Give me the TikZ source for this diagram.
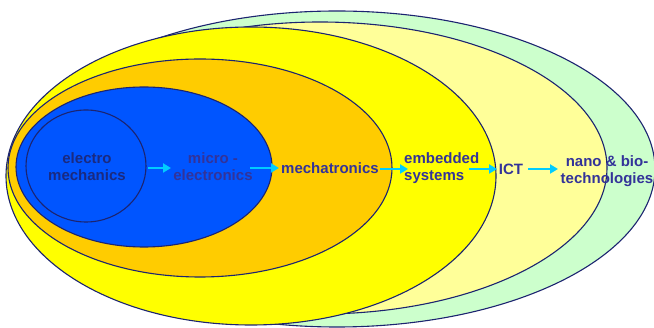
\documentclass[tikz,border=0pt]{standalone}
\usepackage{fontspec}
\setmainfont{Liberation Sans}
\usetikzlibrary{arrows.meta}
\definecolor{outline}{HTML}{1C2470}
\definecolor{mint}{HTML}{CCFFCC}
\definecolor{paleyellow}{HTML}{FFFF99}
\definecolor{brightyellow}{HTML}{FFFF00}
\definecolor{amber}{HTML}{FFCC00}
\definecolor{royal}{HTML}{0055FF}
\definecolor{navytext}{HTML}{333399}
\definecolor{darknavy}{HTML}{1A2A80}
\definecolor{flow}{HTML}{00CCFF}
\tikzset{
  ring/.style={draw=outline, line width=1.1pt},
  label/.style={font=\fontsize{15}{17}\selectfont\bfseries, text=navytext, inner sep=0pt, align=center},
  flowarrow/.style={draw=flow, line width=2.4pt, -{Triangle[length=8pt,width=9pt]}, shorten >=0pt}
}
\begin{document}
\begin{tikzpicture}[x=1pt, y=-1pt]
\useasboundingbox (0,0) rectangle (654,328);
% nested fields, outermost first
\filldraw[ring, fill=mint] (337,169) ellipse [x radius=318pt, y radius=158pt];
\filldraw[ring, fill=paleyellow] (320,168) ellipse [x radius=287pt, y radius=146pt];
\filldraw[ring, fill=brightyellow] (251,176) ellipse [x radius=245pt, y radius=149pt];
\filldraw[ring, fill=amber] (200,168) ellipse [x radius=192pt, y radius=109pt];
\filldraw[ring, fill=royal] (144,167) ellipse [x radius=128pt, y radius=80pt];
\draw[ring] (86,166) ellipse [x radius=60pt, y radius=56pt];
% labels
\node[label, text=darknavy] (em) at (87,167) {electro\\mechanics};
\node[label] (me) at (213,167) {micro -\\electronics};
\node[label] (mt) at (330,168) {mechatronics};
\node[label, anchor=west, align=left] (es) at (404,168) {embedded\\systems};
\node[label] (ict) at (511,169) {ICT};
\node[label] (nb) at (607,171) {nano \& bio-\\technologies};
% arrow ends
\coordinate (a1s) at (148,168); \coordinate (a1e) at (171,168);
\coordinate (a2s) at (250,168); \coordinate (a2e) at (279,168);
\coordinate (a3s) at (380,169); \coordinate (a3e) at (408,169);
\coordinate (a4s) at (469,169); \coordinate (a4e) at (497,169);
\coordinate (a5s) at (528,169); \coordinate (a5e) at (558,169);
\draw[flowarrow] (a1s) -- (a1e);
\draw[flowarrow] (a2s) -- (a2e);
\draw[flowarrow] (a3s) -- (a3e);
\draw[flowarrow] (a4s) -- (a4e);
\draw[flowarrow] (a5s) -- (a5e);
\end{tikzpicture}
\end{document}
